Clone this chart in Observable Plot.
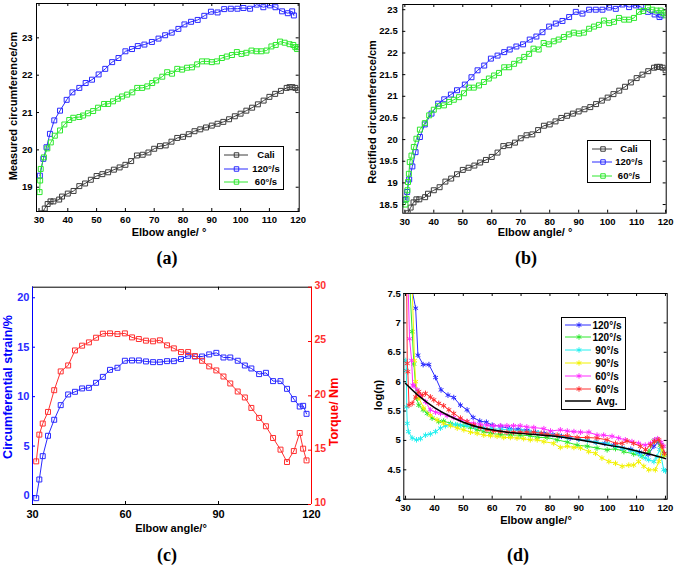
<!DOCTYPE html>
<html><head><meta charset="utf-8">
<script src="https://cdn.jsdelivr.net/npm/d3@7"></script>
<script src="https://cdn.jsdelivr.net/npm/@observablehq/plot@0.6"></script>
<style>
body{margin:0;background:#fff;}
#fig{position:relative;width:675px;height:565px;background:#fff;overflow:hidden;font-family:'Liberation Sans',Arial,sans-serif;}
.lab{position:absolute;white-space:nowrap;font-weight:bold;line-height:1;}
.legend{position:absolute;border:1px solid #000;background:#fff;box-sizing:border-box;}
</style></head><body><div id="fig"></div><script>
// ---------- data ----------
const xTicksAB = [30,40,50,60,70,80,90,100,110,120];
const yTicksA = [19,20,21,22,23];
const yTicksB = [18.5,19,19.5,20,20.5,21,21.5,22,22.5,23];
const xTicksC = [30,60,90,120];
const yTicksCstrain = [0,5,10,15,20];
const yTicksCtorque = [10,15,20,25,30];
const yTicksD = [4,4.5,5,5.5,6,6.5,7,7.5];

const caliX = [31,32,33,34,35,37,38,40,42,44,46,48,50,52,54,56,58,60,62,64,66,68,70,72,74,76,78,80,82,84,86,88,90,92,94,96,98,100,102,104,106,108,110,112,114,116,117,118,119,120];
const caliY = [18.3,18.43,18.55,18.62,18.62,18.67,18.75,18.83,18.9,19.03,19.1,19.2,19.3,19.35,19.4,19.47,19.53,19.6,19.7,19.85,19.87,19.93,20.03,20.1,20.12,20.22,20.32,20.35,20.42,20.5,20.55,20.6,20.65,20.7,20.75,20.82,20.9,20.97,21.05,21.13,21.22,21.32,21.42,21.5,21.58,21.66,21.68,21.68,21.66,21.6];

const aFastX = [30.3,31.5,32.6,33.8,35.3,37.3,39.6,41.6,44,46.2,48.4,50.7,53,55.4,57.6,60,62.3,64.3,66.6,69.2,71.5,73.8,76.1,78.4,80.5,82.8,85.1,87.4,89.7,92,94.3,96.6,98.9,101,103.3,105.6,107.9,110.2,112.1,114.4,116.4,117.9,118.5];
const aFastY = [19.31,19.76,20.07,20.43,20.79,21.05,21.34,21.54,21.66,21.79,21.88,22.02,22.17,22.35,22.46,22.64,22.7,22.78,22.82,22.89,22.98,23.07,23.14,23.24,23.36,23.43,23.48,23.59,23.7,23.68,23.77,23.78,23.78,23.8,23.78,23.89,23.82,23.87,23.82,23.71,23.66,23.71,23.6];
const aSlowX = [30.2,30.4,30.6,31.7,32.9,34.1,35.5,37.3,38.8,40.5,41.9,44,45.3,47,48.8,50.5,52.6,54,55.7,57.4,58.8,60.6,62.4,64.1,65.8,67.6,69.3,70.7,72.8,74.5,76.2,78,79.7,81.4,83.1,84.9,86.6,88.3,90,91.8,93.5,95.2,97,98.7,100.3,102,103.8,105.5,107.2,109,110.7,112.2,113.7,115.3,117,118.3,119,119.6,120];
const aSlowY = [18.87,19.18,19.49,19.8,20.04,20.2,20.38,20.52,20.68,20.8,20.86,20.88,20.92,20.98,21.04,21.13,21.23,21.23,21.3,21.37,21.43,21.48,21.54,21.66,21.66,21.7,21.79,21.86,21.96,22.08,22.04,22.17,22.15,22.2,22.21,22.29,22.37,22.37,22.35,22.37,22.46,22.5,22.54,22.62,22.57,22.6,22.66,22.64,22.64,22.66,22.77,22.81,22.9,22.87,22.83,22.81,22.75,22.7,22.75];

const bFastX = [30.2,30.8,31.5,32.6,33.7,35.2,36.9,39.2,41.5,43.6,45.9,48,50.7,53,55.1,57.4,59.7,62,64.3,66.2,68.5,70.8,73.1,75.4,77.5,79.8,82.1,84.4,86.7,89,91.3,93.6,95.9,98.2,100.5,102.8,105.1,107.4,109.7,111.6,113.9,116.2,117.9,118.5];
const bFastY = [18.61,18.79,19.08,19.38,19.71,20.06,20.35,20.6,20.83,20.93,21.04,21.14,21.27,21.44,21.6,21.71,21.87,21.94,22.02,22.08,22.15,22.2,22.31,22.38,22.48,22.61,22.68,22.74,22.83,22.95,22.91,23.0,23.0,23.0,23.05,23.02,23.12,23.06,23.1,23.06,22.95,22.89,22.83,22.87];
const bSlowX = [30.2,30.6,30.9,31.1,31.4,31.7,32.3,33.1,34,35.2,36.9,38.4,40,41.5,43.5,45.3,46.9,48.7,50.4,52.1,53.8,55.6,57.3,59,60.8,62.5,64.3,66,67.7,69.5,71.2,72.9,74.4,76.2,77.9,79.7,81.4,83.1,84.9,86.6,88.3,90.1,91.8,93.6,95.3,97,98.7,100.5,102.2,103.9,105.7,107.4,109.1,110.8,112.3,113.9,115.4,116.9,118.3,119.2,120];
const bSlowY = [18.5,18.63,18.83,19.02,19.21,19.48,19.63,19.83,20.02,20.23,20.38,20.56,20.69,20.77,20.79,20.87,20.92,20.98,21.07,21.2,21.2,21.25,21.33,21.41,21.48,21.54,21.67,21.67,21.75,21.83,21.91,21.98,22.1,22.08,22.23,22.2,22.27,22.31,22.37,22.43,22.47,22.45,22.47,22.56,22.61,22.65,22.75,22.69,22.72,22.81,22.77,22.77,22.81,22.95,22.97,23.05,23.0,22.98,22.98,22.92,22.87];

const cAngle = [31.2,32.2,33.3,35,37,39.1,41.5,43.7,46,48.2,50.5,52.7,55,57.4,59.8,62.1,64.3,66.6,68.9,71.1,73.4,75.6,77.9,80.2,82.4,84.7,87,89.3,91.6,93.8,96.2,98.5,100.6,103.1,105.3,107.6,110,112.1,114.3,116.2,117.3,118.4];
const cStrain = [-0.27,1.62,3.98,6.04,7.66,9.14,10.22,10.49,10.83,10.89,11.4,12.0,12.71,12.92,13.63,13.66,13.66,13.56,13.49,13.49,13.59,13.59,13.8,14.13,14.06,14.06,14.27,14.43,13.96,13.96,13.63,13.15,12.85,12.28,12.41,11.57,11.57,10.79,9.75,9.0,9.07,8.26];
const cTorque = [13.97,16.43,17.45,18.52,20.52,22.25,22.8,24.18,24.62,24.92,25.35,25.72,25.75,25.69,25.75,25.38,25.23,25.08,25.02,25.11,24.65,24.37,24.03,24.03,23.66,23.23,22.71,22.34,21.78,21.14,20.4,19.85,18.89,17.97,17.2,16.12,15.05,13.91,14.92,16.58,15.14,14.06];

const dBlueX = [32.1,33.5,34.3,36.1,38.1,40.4,42.3,44.7,46.7,49,51.3,53.4,55.7,58,60,63,66,69,72,75,78,81,84,87,90,93,96,99,102,105,108,111,114,116,117.5,118.5,119.5];
const dBlueY = [7.6,7.25,6.45,6.29,6.29,6.07,5.86,5.77,5.73,5.6,5.52,5.39,5.33,5.31,5.26,5.24,5.2,5.19,5.17,5.14,5.12,5.1,5.07,5.04,5.02,5.0,4.97,4.95,4.92,4.87,4.85,4.8,4.76,4.9,4.97,4.93,4.78];
const dGreenX = [31.5,32.3,32.9,33.8,34.6,36.1,37.5,39.2,41.5,43.2,45.6,47.9,50.2,52.5,54.8,57.1,59.4,62.8,66.3,69.7,73.2,75.6,79,82.5,86,89.4,92.9,96.3,99.8,102.7,105.6,109,111.9,114.2,116,117.1,118.2,119.4];
const dGreenY = [7.6,6.85,6.3,5.72,5.6,5.52,5.46,5.38,5.32,5.33,5.29,5.26,5.25,5.22,5.18,5.15,5.12,5.1,5.09,5.09,5.08,5.05,5.05,5.01,4.97,4.92,4.9,4.87,4.84,4.86,4.81,4.77,4.73,4.81,4.99,5.01,4.92,4.75];
const dCyanX = [30.1,30.3,30.4,30.6,31.0,32.3,33.8,35.2,36.9,38.6,40.4,42.1,43.8,45.6,47.3,49,51.3,54,57,60,63,66,70,73,76,80,83,86,90,93,96,100,103,105,108,110,111.3,113,114.2,116,117,118,119.4,120];
const dCyanY = [6.36,6.19,5.57,5.29,5.15,5.04,5.01,5.03,5.09,5.11,5.15,5.21,5.25,5.27,5.27,5.26,5.25,5.23,5.21,5.2,5.19,5.18,5.17,5.15,5.13,5.1,5.08,5.05,5.02,5.0,4.97,4.95,4.9,4.87,4.83,4.8,4.75,4.7,4.67,4.64,4.72,4.85,4.5,4.48];
const dYellowX = [32.3,33.1,33.5,34.6,36.3,38.6,40.9,43.2,45.6,47.9,50.2,52.5,54.8,57.1,59.4,61.7,64,66.3,68.6,70.9,73.2,75.6,77.9,81.3,83.6,86,88.3,90.6,93.4,95.8,98,100.4,102.7,105,107.3,109,110.7,112.5,114.2,116.5,117.7,118.8,119.7];
const dYellowY = [7.6,6.36,6.0,5.72,5.55,5.43,5.35,5.29,5.25,5.21,5.18,5.14,5.12,5.09,5.08,5.07,5.05,5.05,5.04,5.03,5.01,5.01,4.98,4.95,4.88,4.9,4.88,4.87,4.81,4.78,4.7,4.64,4.61,4.56,4.58,4.58,4.64,4.56,4.5,4.5,4.64,4.87,4.75];
const dMagentaX = [30.9,31.4,32.1,32.5,32.9,34,35.2,36.9,38.6,40.4,42.1,44.4,46.7,49,51.3,53.6,55.9,58.2,60.5,62.8,65.1,67.4,69.7,72,74.4,77.9,80.2,83.6,86,88.3,90.6,93.5,96.3,98.6,101.5,103.8,106.1,108.4,110.7,113,114.8,116.2,117.3,118.5,119.4];
const dMagentaY = [7.6,6.73,6.36,5.94,5.93,5.86,5.77,5.66,5.52,5.48,5.46,5.42,5.39,5.35,5.32,5.29,5.27,5.26,5.25,5.25,5.25,5.25,5.25,5.23,5.22,5.2,5.16,5.18,5.16,5.15,5.14,5.14,5.09,5.09,5.07,5.04,5.01,4.98,4.95,4.92,4.95,5.01,5.03,4.97,4.9];
const dRedX = [30.4,30.6,30.8,31.2,32.3,33.5,34.6,35.8,36.9,38.6,39.8,41.5,43.2,45,46.7,49,51.3,53.6,55.9,58.2,60.5,62.8,65.1,67.4,69.7,72,74.4,77,79,82.5,86,89.4,92.9,96.3,99.8,102.7,105,106.7,109,111.3,113.1,114.8,116.2,117.7,118.8,119.7];
const dRedY = [7.6,6.31,6.17,5.6,5.63,5.74,5.83,5.77,5.8,5.74,5.69,5.63,5.59,5.52,5.46,5.38,5.32,5.26,5.22,5.18,5.16,5.15,5.14,5.14,5.14,5.14,5.14,5.12,5.1,5.09,5.08,5.05,5.05,5.04,5.01,4.95,4.95,4.99,4.95,4.9,4.84,4.92,4.98,5.01,4.9,4.78];
const dAvgX = [30,35,40,45,50,55,60,65,70,75,80,85,90,95,100,105,110,115,120];
const dAvgY = [5.97,5.74,5.56,5.42,5.31,5.23,5.18,5.14,5.12,5.1,5.08,5.05,5.01,4.97,4.92,4.88,4.82,4.76,4.69];

const labelsABC = ["Cali","120°/s","60°/s"];
const labelsD = ["120°/s","120°/s","90°/s","90°/s","60°/s","60°/s","Avg."];

// ---------- styles ----------
const SANS = "'Liberation Sans', Arial, sans-serif";
const SERIF = "'Liberation Serif', 'Times New Roman', serif";
const C = {gray:"#3c3c3c", blue:"#2a2aff", green:"#2ee82e", cyan:"#22f0f0", yellow:"#f2f200", magenta:"#ff2cff", red:"#ff3030", black:"#000"};
const fig = document.getElementById("fig");

const zip = (xs, ys) => xs.map((x, i) => ({x, y: ys[i]}));

function series(xs, ys, color, symbol, r) {
  const data = zip(xs, ys);
  return [
    Plot.line(data, {x: "x", y: "y", stroke: color, strokeWidth: 1, clip: true}),
    Plot.dot(data, {x: "x", y: "y", symbol, r, stroke: color, fill: "none", strokeWidth: 1, clip: true})
  ];
}

function innerTicks(xt, yt, iw, ih, sides, len = 3, ycolor = "#000") {
  const m = [];
  if (xt) {
    m.push(Plot.ruleX(xt, {x: d => d, insetTop: ih - len, stroke: "#000"}));
    m.push(Plot.ruleX(xt, {x: d => d, insetBottom: ih - len, stroke: "#000"}));
  }
  if (yt) {
    if (sides.includes("l")) m.push(Plot.ruleY(yt, {y: d => d, insetRight: iw - len, stroke: ycolor}));
    if (sides.includes("r")) m.push(Plot.ruleY(yt, {y: d => d, insetLeft: iw - len, stroke: ycolor}));
  }
  return m;
}

function place(svg, left, top) {
  svg.style.position = "absolute";
  svg.style.left = left + "px";
  svg.style.top = top + "px";
  fig.appendChild(svg);
}

function label(text, cx, cy, o = {}) {
  const d = document.createElement("div");
  d.className = "lab";
  d.textContent = text;
  d.style.left = cx + "px";
  d.style.top = cy + "px";
  d.style.fontSize = (o.size || 11) + "px";
  d.style.fontFamily = o.family || SANS;
  d.style.color = o.color || "#000";
  d.style.transform = "translate(-50%,-50%)" + (o.rotate ? " rotate(-90deg)" : "");
  fig.appendChild(d);
}

function legend(entries, box) {
  const L = document.createElement("div");
  L.className = "legend";
  Object.assign(L.style, {left: box.left + "px", top: box.top + "px", width: box.w + "px", height: box.h + "px"});
  entries.forEach((e, i) => {
    const cy = box.row0 + box.step * i;
    const s = d3.create("svg").attr("width", box.w).attr("height", 12)
      .style("position", "absolute").style("left", "-1px").style("top", (cy - 6 - 1) + "px").style("overflow", "visible");
    s.append("line").attr("x1", box.lx1).attr("x2", box.lx2).attr("y1", 6).attr("y2", 6)
      .attr("stroke", e.color).attr("stroke-width", e.sw || 1);
    if (e.symbol) {
      s.append("path").attr("transform", `translate(${box.mx},6)`)
        .attr("d", d3.symbol(e.symbol, e.size)())
        .attr("fill", "none").attr("stroke", e.color).attr("stroke-width", 1);
    }
    s.append("text").attr("x", box.tx).attr("y", 6).attr("dy", "0.35em")
      .attr("text-anchor", "middle").attr("font-family", SANS).attr("font-weight", "bold")
      .attr("font-size", box.fs).attr("fill", "#000").text(e.label);
    L.appendChild(s.node());
  });
  fig.appendChild(L);
}

const fmt = d => String(d);
const baseStyle = fs => ({background: "transparent", fontFamily: SANS, fontWeight: "bold", fontSize: fs, color: "#000", overflow: "visible"});

// ---------- panel (a) ----------
{
  const W = 320, H = 232, ml = 36, mr = 21.3, mt = 3, mb = 21;
  const iw = W - ml - mr, ih = H - mt - mb;
  const p = Plot.plot({
    width: W, height: H, marginLeft: ml, marginRight: mr, marginTop: mt, marginBottom: mb,
    style: baseStyle("9.5px"),
    x: {domain: [29.13, 120.35], ticks: xTicksAB, tickSize: 0, tickPadding: 5, label: null, tickFormat: fmt},
    y: {domain: [18.35, 23.92], ticks: yTicksA, tickSize: 0, tickPadding: 4, label: null, tickFormat: fmt},
    marks: [
      ...innerTicks(xTicksAB, yTicksA, iw, ih, "lr"),
      ...series(caliX, caliY, C.gray, "square", 2.8),
      ...series(aFastX, aFastY, C.blue, "square", 2.8),
      ...series(aSlowX, aSlowY, C.green, "square", 2.8),
      Plot.frame({stroke: "#000"})
    ]
  });
  place(p, 0, 0);
  legend([
    {label: labelsABC[0], color: C.gray, symbol: d3.symbolSquare, size: 20},
    {label: labelsABC[1], color: C.blue, symbol: d3.symbolSquare, size: 20},
    {label: labelsABC[2], color: C.green, symbol: d3.symbolSquare, size: 20}
  ], {left: 219, top: 146, w: 65, h: 44, row0: 9, step: 13.5, lx1: 5, lx2: 29, mx: 17.5, tx: 47, fs: "9.5px"});
  label("Measured circumference/cm", 13, 106, {rotate: true});
  label("Elbow angle/ °", 169, 232);
  label("(a)", 167, 258, {size: 18, family: SERIF});
}

// ---------- panel (b) ----------
{
  const W = 335, H = 232, ml = 62.3, mr = 9.3, mt = 4, mb = 19.3;
  const iw = W - ml - mr, ih = H - mt - mb;
  const p = Plot.plot({
    width: W, height: H, marginLeft: ml, marginRight: mr, marginTop: mt, marginBottom: mb,
    style: baseStyle("9.5px"),
    x: {domain: [29.3, 120.2], ticks: xTicksAB, tickSize: 0, tickPadding: 5, label: null, tickFormat: fmt},
    y: {domain: [18.3, 23.12], ticks: yTicksB, tickSize: 0, tickPadding: 5, label: null, tickFormat: fmt},
    marks: [
      ...innerTicks(xTicksAB, yTicksB, iw, ih, "lr"),
      ...series(caliX, caliY, C.gray, "square", 2.8),
      ...series(bFastX, bFastY, C.blue, "square", 2.8),
      ...series(bSlowX, bSlowY, C.green, "square", 2.8),
      Plot.frame({stroke: "#000"})
    ]
  });
  place(p, 340, 0);
  legend([
    {label: labelsABC[0], color: C.gray, symbol: d3.symbolSquare, size: 20},
    {label: labelsABC[1], color: C.blue, symbol: d3.symbolSquare, size: 20},
    {label: labelsABC[2], color: C.green, symbol: d3.symbolSquare, size: 20}
  ], {left: 587, top: 140, w: 64, h: 43, row0: 8.5, step: 13.5, lx1: 5, lx2: 25, mx: 16, tx: 42, fs: "9.5px"});
  label("Rectified circumference/cm", 372, 112, {rotate: true});
  label("Elbow angle/ °", 535, 232);
  label("(b)", 526, 258, {size: 18, family: SERIF});
}

// ---------- panel (c) ----------
{
  const W = 340, H = 245, ml = 32, mr = 29, mt = 6.7, mb = 21;
  const iw = W - ml - mr, ih = H - mt - mb;
  const xDomC = [30, 120], yDomStrain = [-0.91, 21.07], yDomTorque = [10, 30];
  const common = {width: W, height: H, marginLeft: ml, marginRight: mr, marginTop: mt, marginBottom: mb, style: baseStyle("11px")};
  const left = Plot.plot({
    ...common,
    x: {domain: xDomC, label: null},
    y: {domain: yDomStrain, label: null},
    marks: [
      Plot.axisX(xTicksC, {anchor: "bottom", tickSize: 0, tickPadding: 6, tickFormat: fmt, fill: "#000", label: null}),
      Plot.axisY(yTicksCstrain, {anchor: "left", tickSize: 0, tickPadding: 3, tickFormat: fmt, fill: C.blue, label: null}),
      ...innerTicks(xTicksC, yTicksCstrain, iw, ih, "l", 3, "#0000ff"),
      ...series(cAngle, cStrain, C.blue, "square", 2.8),
      Plot.ruleY(yDomStrain, {stroke: "#000"}),
      Plot.ruleX([xDomC[0]], {stroke: "#0000ff"})
    ]
  });
  place(left, 0, 280);
  const right = Plot.plot({
    ...common,
    x: {domain: xDomC, label: null, axis: null},
    y: {domain: yDomTorque, label: null},
    marks: [
      Plot.axisY(yTicksCtorque, {anchor: "right", tickSize: 0, tickPadding: 3, tickFormat: fmt, fill: C.red, label: null, dy: -1.5, fontSize: 10.5}),
      ...innerTicks(null, yTicksCtorque, iw, ih, "r", 3, "#ff0000"),
      ...series(cAngle, cTorque, C.red, "square", 2.8),
      Plot.ruleX([xDomC[1]], {stroke: "#ff0000"})
    ]
  });
  place(right, 0, 280);
  label("Circumferential strain/%", 8, 387, {rotate: true, size: 12.5, color: "#0000ff"});
  label("Torque/ Nm", 334, 412, {rotate: true, size: 12.5, color: "#ff0000"});
  label("Elbow angle/°", 171, 528);
  label("(c)", 167, 555, {size: 18, family: SERIF});
}

// ---------- panel (d) ----------
{
  const W = 335, H = 240, ml = 63.3, mr = 8.3, mt = 13, mb = 21.3;
  const iw = W - ml - mr, ih = H - mt - mb;
  const sym = "asterisk", r = 2.6;
  const p = Plot.plot({
    width: W, height: H, marginLeft: ml, marginRight: mr, marginTop: mt, marginBottom: mb,
    style: baseStyle("9.5px"),
    x: {domain: [29.4, 120.6], ticks: xTicksAB, tickSize: 0, tickPadding: 5, label: null, tickFormat: fmt},
    y: {domain: [4, 7.5], ticks: yTicksD, tickSize: 0, tickPadding: 3, label: null, tickFormat: fmt},
    marks: [
      ...innerTicks(xTicksAB, yTicksD, iw, ih, "lr"),
      ...series(dBlueX, dBlueY, C.blue, sym, r),
      ...series(dGreenX, dGreenY, C.green, sym, r),
      ...series(dCyanX, dCyanY, C.cyan, sym, r),
      ...series(dYellowX, dYellowY, C.yellow, sym, r),
      ...series(dMagentaX, dMagentaY, C.magenta, sym, r),
      ...series(dRedX, dRedY, C.red, sym, r),
      Plot.line(zip(dAvgX, dAvgY), {x: "x", y: "y", stroke: C.black, strokeWidth: 1.5, curve: "natural"}),
      Plot.frame({stroke: "#000"})
    ]
  });
  place(p, 340, 280);
  const ast = d3.symbolAsterisk || d3.symbolCross;
  const cols = [C.blue, C.green, C.cyan, C.yellow, C.magenta, C.red];
  legend([
    ...cols.map((c, i) => ({label: labelsD[i], color: c, symbol: ast, size: 20})),
    {label: labelsD[6], color: C.black, sw: 1.5}
  ], {left: 561, top: 317, w: 65, h: 93, row0: 7.5, step: 12.8, lx1: 4, lx2: 30, mx: 18, tx: 46, fs: "10px"});
  label("log(η)", 378, 395, {rotate: true});
  label("Elbow angle/°", 536, 520);
  label("(d)", 518, 555, {size: 18, family: SERIF});
}
</script></body></html>
